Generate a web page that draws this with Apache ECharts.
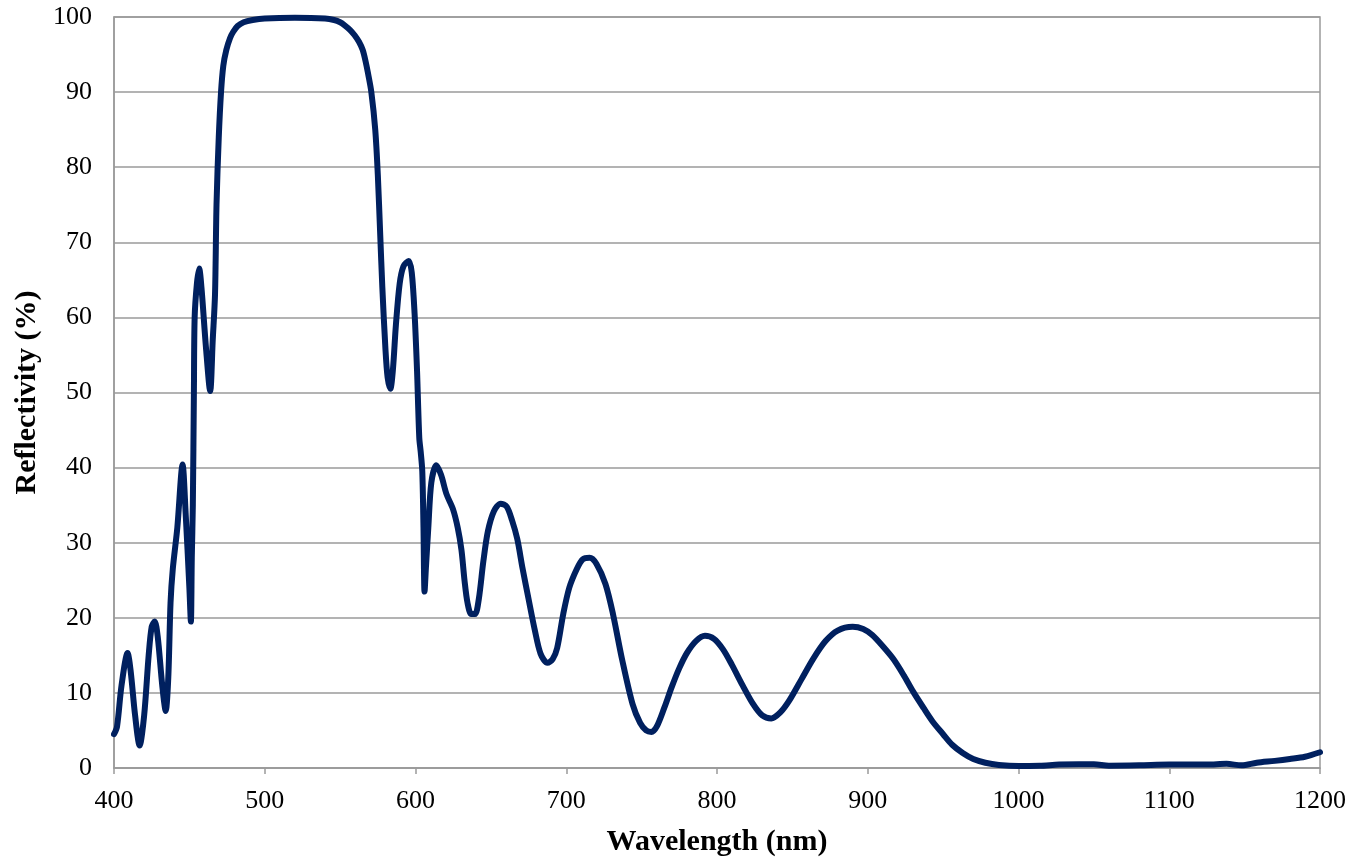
<!DOCTYPE html>
<html>
<head>
<meta charset="utf-8">
<script src="https://cdn.jsdelivr.net/npm/echarts@6/dist/echarts.min.js"></script>
<style>
html,body{margin:0;padding:0;background:#fff;}
#chart{width:1351px;height:862px;}
</style>
</head>
<body>
<div id="chart"></div>
<script>
var wavelength = [400,402,405,409,411,414,417,420,423,425,427,429,432,434.3,436,437.5,439,442,445.5,447.5,450,451,451.6,452.3,453,453.5,455,456.5,458,461,463.8,465.5,467,468,469.5,471,472.5,474.5,477,479,482,486,492,500,520,540,546,550,553,556.5,559.5,562.5,565,567,568.5,570.7,573.3,575,576.6,578,580,581.5,583.3,585,587,589.5,592,595.5,597.5,599.4,601,602.5,603.5,604.5,605.3,606,607,608.5,610.5,613.8,617,620.5,624.8,628,630.5,632.5,634.5,637,639.5,642,645,648,652,656.5,660.5,664,667.5,671,675,679,683,687.5,691,694,698,702,707,711,715.5,720,726,731,737,744,749,753,756.5,760,765,770,775,780,786,792,798,804,810,817,824,830,836,842,848,856,864,872,880,890,897,903,910,917,924,930,937,943,950,956,963,970,978,987,1000,1014,1027,1040,1050,1060,1080,1100,1125,1138,1148,1158,1170,1180,1190,1200];
var reflectivity = [4.5,5.5,11,15.3,13,7,3.0,7,15,18.8,19.5,17.5,11,7.6,12,22,26.5,32,40.4,34,24,19.5,28,35,50,60,64.5,66.5,64,56,50.2,57,63,75,84,90,93.5,95.6,97.2,98,98.8,99.3,99.6,99.8,99.9,99.8,99.6,99.3,98.9,98.3,97.6,96.7,95.6,94,92.5,90,85,79,71,64,56,52,50.5,53,59,64.5,66.8,67.5,66,60.5,53,44,42,39.5,32,23.5,27,32,38,40.3,39,36.5,34.5,32,29,25,22,20.5,20.5,22.5,27.5,31.5,34.2,35.2,34.8,33,30.5,26.6,22.5,18.5,15.2,14.0,14.5,16,20.5,24,26.5,27.8,28.0,27.2,24.5,20.5,14.5,8.5,6,5,4.8,5.5,8,10.8,13.3,15.3,16.9,17.6,17.2,15.8,13.7,11,8.5,7.0,6.6,7.4,9.0,11.8,14.6,16.9,18.3,18.8,18.5,17.7,16.2,14.5,12.3,10.2,8,6.2,4.5,3.1,2,1.2,0.7,0.4,0.25,0.3,0.45,0.5,0.5,0.3,0.35,0.45,0.45,0.55,0.35,0.7,0.95,1.2,1.5,2.1];
var xTicks = [400,500,600,700,800,900,1000,1100,1200];
var yTicks = [0,10,20,30,40,50,60,70,80,90,100];
var xTitle = 'Wavelength (nm)';
var yTitle = 'Reflectivity (%)';

var seriesData = wavelength.map(function(w,i){return [w, reflectivity[i]];});
var chart = echarts.init(document.getElementById('chart'));
var serif = '"Liberation Serif","DejaVu Serif",serif';
chart.setOption({
  animation:false,
  backgroundColor:'#fff',
  grid:{left:114,right:31,top:17,bottom:87,show:true,borderColor:'#9a9a9a',borderWidth:1.5},
  xAxis:{
    type:'value',min:xTicks[0],max:xTicks[xTicks.length-1],interval:100,
    name:xTitle,nameLocation:'middle',nameGap:59,
    nameTextStyle:{fontFamily:serif,fontWeight:'bold',fontSize:30,color:'#000'},
    axisLine:{show:true,lineStyle:{color:'#9a9a9a',width:1.5}},
    axisTick:{show:true,length:6,inside:false,lineStyle:{color:'#9a9a9a',width:1.5}},
    axisLabel:{fontFamily:serif,fontSize:26,color:'#000',margin:20,formatter:function(v){return String(v);}},
    splitLine:{show:false}
  },
  yAxis:{
    type:'value',min:yTicks[0],max:yTicks[yTicks.length-1],interval:10,
    name:yTitle,nameLocation:'middle',nameGap:71,nameRotate:90,
    nameTextStyle:{fontFamily:serif,fontWeight:'bold',fontSize:30,color:'#000'},
    axisLine:{show:true,lineStyle:{color:'#9a9a9a',width:1.5}},
    axisTick:{show:false},
    axisLabel:{fontFamily:serif,fontSize:26,color:'#000',margin:22,formatter:function(v){return String(v);}},
    splitLine:{show:true,lineStyle:{color:'#9a9a9a',width:1.5}}
  },
  series:[{
    type:'line',data:seriesData,smooth:0.3,showSymbol:false,
    lineStyle:{color:'#00205f',width:6,cap:'round',join:'round'},
    clip:false
  }]
});
</script>
</body>
</html>
